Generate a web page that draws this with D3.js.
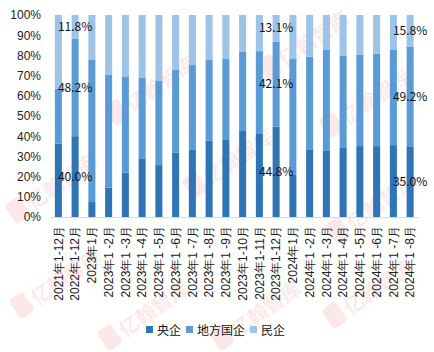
<!DOCTYPE html>
<html>
<head>
  <meta charset="utf-8">
  <title>央企 地方国企 民企 占比</title>
  <style>
    body { margin: 0; background: #fff; }
    svg { font-family: "Noto Sans CJK SC", "Noto Sans", sans-serif; }
    .axis text { font-size: 12px; fill: #222; }
    .axis path, .axis line { stroke: none; }
    .wm { fill: #e85a5a; fill-opacity: 0.14; font-size: 20px; font-weight: bold; }
  </style>
  <script src="https://d3js.org/d3.v7.min.js"></script>
</head>
<body>
  <script>
    // 数据
    var categories = ['2021年1-12月','2022年1-12月','2023年1月','2023年1 -2月','2023年1 -3月','2023年1 -4月',
      '2023年1 -5月','2023年1 -6月','2023年1 -7月','2023年1 -8月','2023年1 -9月','2023年1-10月',
      '2023年1-11月','2023年1-12月','2024年1月','2024年1 -2月','2024年1 -3月','2024年1 -4月',
      '2024年1 -5月','2024年1 -6月','2024年1 -7月','2024年1 -8月'];
    var seriesNames = ['央企','地方国企','民企'];
    var yangqi  = [36.3,40.0,7.4,14.5,21.9,28.7,25.7,31.8,33.3,37.8,38.1,42.6,41.1,44.8,20.8,33.2,32.7,34.2,35.1,35.1,35.6,35.0];
    var difang  = [27.2,48.2,70.3,55.8,47.4,40.1,41.6,41.0,41.9,39.9,40.1,39.1,41.0,42.1,57.4,46.2,50.0,45.7,45.3,45.8,47.1,49.2];
    var minqi   = [36.5,11.8,22.3,29.7,30.7,31.2,32.7,27.2,24.8,22.3,21.8,18.3,17.9,13.1,21.8,20.6,17.3,20.1,19.6,19.1,17.3,15.8];
    var labelIdx = [1, 13, 21];   // 带数据标签的柱子
    var yTicks = [0,10,20,30,40,50,60,70,80,90,100];
    var colors = ['#2e75b6','#5b9bd5','#9dc3e6'];

    var width = 434, height = 352;
    var svg = d3.select('body').append('svg')
      .attr('width', width)
      .attr('height', height);

    // 水印
    var wmPos = [[157,87],[310,42],[372,100],[235,160],[378,205],[58,185],[62,280],[375,290],[262,312],[150,312]];
    wmPos.forEach(function(p){
      var g = svg.append('g').attr('transform', 'translate(' + p[0] + ',' + p[1] + ') rotate(-35)');
      g.append('rect').attr('x', -56).attr('y', -14).attr('width', 17).attr('height', 23).attr('rx', 4)
        .attr('fill', '#e85a5a').attr('fill-opacity', 0.14);
      g.append('text').attr('class', 'wm').attr('x', -35).attr('y', 7).text('亿翰智库');
    });

    var padding = {left: 50, right: 15.5, top: 15, bottom: 135};
    var data = categories.map(function(c, i){
      return {cat: c, '央企': yangqi[i], '地方国企': difang[i], '民企': minqi[i]};
    });
    var stack = d3.stack().keys(seriesNames).offset(d3.stackOffsetExpand);
    var series = stack(data);

    var xScale = d3.scaleBand()
      .domain(categories)
      .range([padding.left, width - padding.right])
      .paddingInner(0.58)
      .paddingOuter(0.29);
    var yScale = d3.scaleLinear()
      .domain([0, 1])
      .range([height - padding.bottom, padding.top]);

    // 柱子
    svg.selectAll('.layer')
      .data(series)
      .enter()
      .append('g')
      .attr('class', 'layer')
      .attr('fill', function(d, i){ return colors[i]; })
      .selectAll('rect')
      .data(function(d){ return d; })
      .enter()
      .append('rect')
      .attr('x', function(d){ return xScale(d.data.cat); })
      .attr('y', function(d){ return yScale(d[1]); })
      .attr('width', xScale.bandwidth())
      .attr('height', function(d){ return yScale(d[0]) - yScale(d[1]); });

    // y 轴
    var yAxis = d3.axisLeft(yScale)
      .tickValues(yTicks.map(function(t){ return t / 100; }))
      .tickFormat(function(d){ return Math.round(d * 100) + '%'; })
      .tickSize(0)
      .tickPadding(9);
    svg.append('g')
      .attr('class', 'axis')
      .attr('transform', 'translate(' + padding.left + ',0)')
      .call(yAxis);

    // x 轴
    var xAxis = d3.axisBottom(xScale).tickSize(0).tickPadding(0);
    var xg = svg.append('g')
      .attr('class', 'axis')
      .attr('transform', 'translate(0,' + yScale(0) + ')')
      .call(xAxis);
    xg.selectAll('text')
      .attr('text-anchor', 'end')
      .attr('transform', 'rotate(-90)')
      .attr('x', -9)
      .attr('y', 0)
      .attr('dy', '0.35em');
    svg.append('line')
      .attr('x1', padding.left).attr('x2', width - padding.right)
      .attr('y1', yScale(0) + 0.5).attr('y2', yScale(0) + 0.5)
      .attr('stroke', '#d9d9d9');

    // 数据标签
    series.forEach(function(s){
      labelIdx.forEach(function(i){
        var d = s[i];
        svg.append('text')
          .attr('x', xScale(d.data.cat) + xScale.bandwidth() / 2)
          .attr('y', (yScale(d[0]) + yScale(d[1])) / 2)
          .attr('dy', '0.35em')
          .attr('text-anchor', 'middle')
          .attr('font-size', 12)
          .attr('fill', '#111')
          .text(d.data[s.key].toFixed(1) + '%');
      });
    });

    // 图例
    var lx = 146, ly = 331;
    seriesNames.forEach(function(name, i){
      svg.append('rect')
        .attr('x', lx).attr('y', ly - 5)
        .attr('width', 7).attr('height', 7)
        .attr('fill', colors[i]);
      var t = svg.append('text')
        .attr('x', lx + 11).attr('y', ly)
        .attr('dy', '0.35em')
        .attr('font-size', 12)
        .attr('fill', '#111')
        .text(name);
      lx += 11 + t.node().getComputedTextLength() + 5;
    });
  </script>
</body>
</html>
